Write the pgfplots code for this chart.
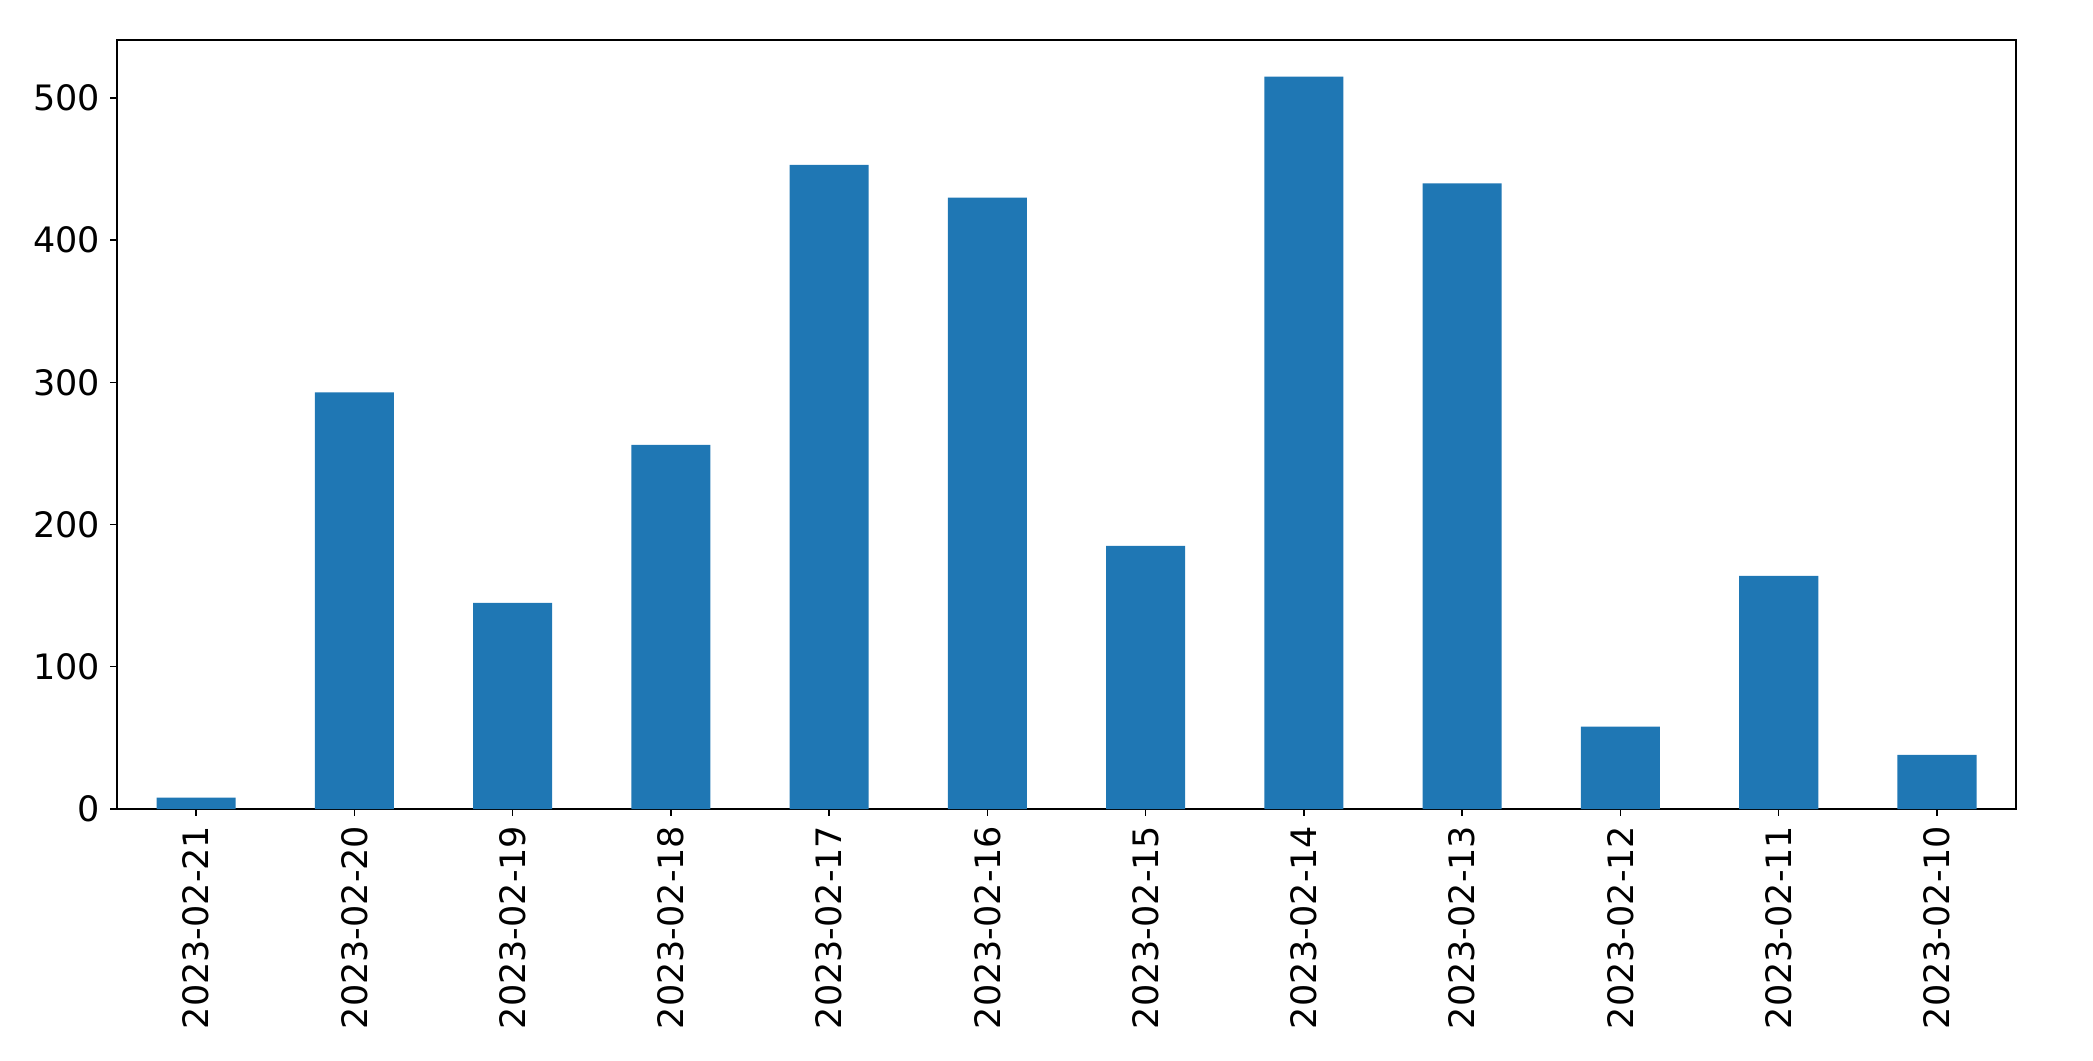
\documentclass[border=0pt]{standalone}
\usepackage{pgfplots}
\pgfplotsset{compat=1.18}
\usepackage{fontspec}
\setmainfont{DejaVu Sans}
\definecolor{mplblue}{HTML}{1F77B4}
\begin{document}
\begin{tikzpicture}
\begin{axis}[
  scale only axis,
  width=683.6pt, height=276.8pt,
  xmin=-0.5, xmax=11.5,
  ymin=0, ymax=540.75,
  ytick={0,100,200,300,400,500},
  xtick={0,1,2,3,4,5,6,7,8,9,10,11},
  xticklabels={2023-02-21,2023-02-20,2023-02-19,2023-02-18,2023-02-17,2023-02-16,2023-02-15,2023-02-14,2023-02-13,2023-02-12,2023-02-11,2023-02-10},
  xticklabel style={rotate=90, anchor=east, font=\fontsize{12.6pt}{15pt}\selectfont},
  yticklabel style={font=\fontsize{12.6pt}{15pt}\selectfont},
  /pgf/number format/assume math mode=true,
  tick align=outside,
  major tick length=2.5pt,
  tick style={black, line width=0.5pt},
  axis line style={line width=0.5pt},
  xtick pos=bottom, ytick pos=left,
  ybar, bar width=0.5,
]
\addplot[fill=mplblue, draw=none] coordinates {(0,8) (1,293) (2,145) (3,256) (4,453) (5,430) (6,185) (7,515) (8,440) (9,58) (10,164) (11,38)};
\end{axis}
\path (current axis.south west) ++(-42.1pt,-90.7pt) coordinate (bl);
\path (current axis.north east) ++(27.7pt,14.4pt) coordinate (tr);
\useasboundingbox (bl) rectangle (tr);
\end{tikzpicture}
\end{document}
